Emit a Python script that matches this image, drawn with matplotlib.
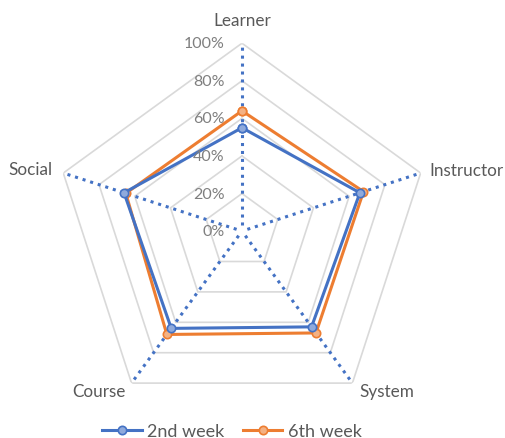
import numpy as np
import matplotlib.pyplot as plt

plt.rcParams['font.family'] = ['Lato', 'DejaVu Sans']

categories = ['Learner', 'Instructor', 'System', 'Course', 'Social']
week2 = [0.55, 0.66, 0.63, 0.64, 0.66]
week6 = [0.64, 0.68, 0.67, 0.68, 0.65]
ticks = [0, 0.2, 0.4, 0.6, 0.8, 1.0]
tick_labels = ['0%', '20%', '40%', '60%', '80%', '100%']

blue = '#4472C4'
orange = '#ED7D31'
grey_txt = '#595959'

n = len(categories)
theta = np.linspace(0, 2 * np.pi, n, endpoint=False)
closed = np.append(theta, theta[0])

fig = plt.figure(figsize=(5.06, 4.39), dpi=100)
ax = fig.add_axes([0.1067, 0.0433, 0.743, 0.856], projection='polar')
ax.set_theta_offset(np.pi / 2)
ax.set_theta_direction(-1)
ax.set_ylim(0, 1)
ax.grid(False)
ax.spines['polar'].set_visible(False)
ax.set_xticks([])
ax.set_yticks([])

# pentagon grid
for t in ticks[1:]:
    ax.plot(closed, [t] * (n + 1), color='#D9D9D9', lw=1.2, zorder=1)

# dotted spokes
for th in theta:
    ax.plot([th, th], [0.03, 1], color=blue, lw=2.2, ls=(0, (1, 1.6)), zorder=2)

ax.plot(closed, week2 + week2[:1], color=blue, lw=2.2, marker='o', ms=6,
        mfc='#8FAADC', mec=blue, mew=1.2, zorder=4, label='2nd week')
ax.plot(closed, week6 + week6[:1], color=orange, lw=2.2, marker='o', ms=6,
        mfc='#F4B183', mec=orange, mew=1.2, zorder=3, label='6th week')

# radial tick labels along the Learner spoke
for t, lab in zip(ticks, tick_labels):
    ax.annotate(lab, xy=(0, t), xytext=(-12.5, 0), textcoords='offset points',
                ha='right', va='center', fontsize=11.5, color='#7F7F7F', zorder=5)

offsets = [((0, 17), 'center', 'center'),
           ((6, 2), 'left', 'center'),
           ((5, -6), 'left', 'center'),
           ((-4, -6), 'right', 'center'),
           ((-8, 3), 'right', 'center')]
for th, cat, (off, ha, va) in zip(theta, categories, offsets):
    ax.annotate(cat, xy=(th, 1.0), xytext=off, textcoords='offset points',
                ha=ha, va=va, fontsize=12.3, color=grey_txt, annotation_clip=False)

fig.legend(loc='center', bbox_to_anchor=(232 / 506, 1 - 432 / 439), ncol=2,
           frameon=False, prop={'size': 13}, handlelength=2.2, columnspacing=1.0,
           labelcolor=grey_txt, handletextpad=0.3)

fig.savefig('out.png', dpi=100)
